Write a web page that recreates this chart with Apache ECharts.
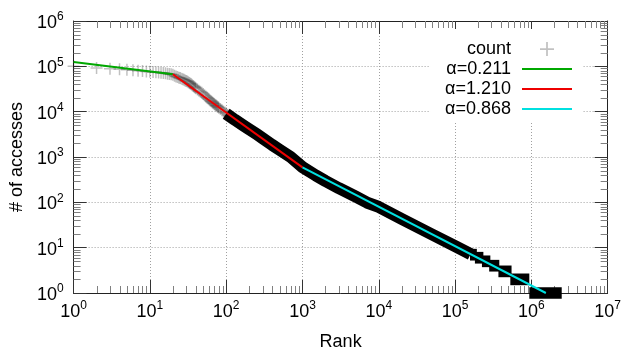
<!DOCTYPE html>
<html>
<head>
<meta charset="utf-8">
<script src="https://cdn.jsdelivr.net/npm/echarts@6/dist/echarts.min.js"></script>
<style>html,body{margin:0;padding:0;background:#fff}#c{width:624px;height:356px}</style>
</head>
<body>
<div id="c"></div>
<script>
// ---- data ----
const headRank = [1,2,3,4,5,6,7,8,9,10,11,12,13,14,15,16,17,18,19,20,
  21,22,23,24,25,26,27,28,29,30,31,32,33,34,35,36,37,38,39,40,
  42,44,46,48,50,52,54,56,58,60,62,64,66,68,70,72,74,76,78,80,
  84,88,92,96,100,105,110,115,120,125,130,135,140,145,150,160,170,180,190,200];
const headCount = [100000,92000,88000,86000,84000,82000,80000,78500,77000,76000,75000,74000,73000,72000,71000,70000,69000,68000,67000,65000,
  62000,60000,58000,56000,55000,53500,52000,50500,49000,47500,46000,44500,43000,41500,40000,38500,37000,35500,34000,33000,
  31000,29000,27500,26000,24500,23000,21500,20500,19500,18500,17500,16800,16000,15300,14700,14100,13600,13100,12600,12200,
  11400,10700,10100,9600,9200,8600,8100,7700,7300,6900,6600,6300,6000,5750,5500,5100,4800,4500,4250,4000];
const bandRank = [100,130,170,200,250,300,400,500,700,1000,1500,2000,3000,5000,7000,10000,20000,50000,100000,160000];
const bandCount = [9000,6600,4900,4100,3200,2600,1850,1450,1000,600,390,295,205,133,99,79,43,19.5,10.8,7.2];
const runCount = [1,2,3,4,5,6,7];
const runStart = [9.4e5,5.3e5,3.7e5,2.8e5,2.25e5,1.82e5,1.57e5];
const runEnd   = [2.5e6,9.4e5,5.5e5,3.8e5,2.9e5,2.35e5,1.93e5];
const fitNames = ['α=0.211','α=1.210','α=0.868'];
const fitColors = ['#00a800','#ee0000','#00e0e0'];
const fit1Rank = [1,20],     fit1Count = [1.25e5,6.7e4];
const fit2Rank = [20,1000],  fit2Count = [6.7e4,590];
const fit3Rank = [1000,1.55e6], fit3Count = [590,1.0];
const xTickLabels = ['0','1','2','3','4','5','6','7'];
const yTickLabels = ['0','1','2','3','4','5','6'];
const minorMult = [2,3,4,5,6,7,8,9];

// ---- build ----
const F = 'Liberation Sans, Arial, sans-serif';
const XMIN = 1, XMAX = 1e7, YMIN = 1, YMAX = 1e6;
const plusPath = 'path://M5.25,0h1.5v5.25h5.25v1.5h-5.25v5.25h-1.5v-5.25h-5.25v-1.5h5.25z';
const barPath = 'path://M0,0H50V2H0Z';
const zip = (a,b) => a.map((v,i) => [v,b[i]]);
const minorX = [], minorY = [];
for (let e = 0; e < 7; e++) minorMult.forEach(m => minorX.push([m*Math.pow(10,e), 1]));
for (let e = 0; e < 6; e++) minorMult.forEach(m => minorY.push([1, m*Math.pow(10,e)]));
const runs = runCount.map((c,i) => [runStart[i], runEnd[i], c]);

function expOf(v){ return Math.round(Math.log10(v)); }
const rich = {
  b: {fontSize:18, fontFamily:F, color:'#000', verticalAlign:'bottom', padding:[3,0,0,0]},
  s: {fontSize:12, fontFamily:F, color:'#000', verticalAlign:'top'}
};
const axisLineS = {show:true, lineStyle:{color:'#222', width:1}};
const tickS = {show:true, inside:true, length:13, lineStyle:{color:'#333', width:1}};
const splitS = {show:true, lineStyle:{color:'#a0a0a0', width:1, type:[1,2]}};

function fitSeries(i, r, c){
  return {name:fitNames[i], type:'line', symbol:'none', showSymbol:false,
    itemStyle:{color:fitColors[i]}, lineStyle:{color:fitColors[i], width:2}, data:zip(r, c)};
}

const chart = echarts.init(document.getElementById('c'), null, {renderer:'canvas'});
chart.setOption({
  animation:false,
  backgroundColor:'#fff',
  grid:{left:73, right:11, top:21, bottom:60, containLabel:false},
  xAxis:[
    {type:'log', logBase:10, min:XMIN, max:XMAX, interval:1, position:'bottom',
     axisLine:axisLineS, axisTick:tickS, splitLine:splitS, minorTick:{show:false},
     axisLabel:{margin:7, formatter:v => '{b|10}{s|' + xTickLabels[expOf(v)] + '}', rich:rich},
     name:'Rank', nameLocation:'middle', nameGap:40,
     nameTextStyle:{fontSize:18, fontFamily:F, color:'#000'}},
    {type:'log', logBase:10, min:XMIN, max:XMAX, interval:1, position:'top',
     axisLine:axisLineS, axisTick:tickS, splitLine:{show:false}, axisLabel:{show:false}}
  ],
  yAxis:[
    {type:'log', logBase:10, min:YMIN, max:YMAX, interval:1, position:'left',
     axisLine:axisLineS, axisTick:tickS, splitLine:splitS,
     axisLabel:{margin:10, padding:[1,0,0,0], formatter:v => '{b|10}{s|' + yTickLabels[expOf(v)] + '}', rich:rich},
     name:'# of accesses', nameLocation:'middle', nameGap:46,
     nameTextStyle:{fontSize:18, fontFamily:F, color:'#000'}},
    {type:'log', logBase:10, min:YMIN, max:YMAX, interval:1, position:'right',
     axisLine:axisLineS, axisTick:tickS, splitLine:{show:false}, axisLabel:{show:false}}
  ],
  legend:{
    orient:'vertical', align:'right', right:41, top:29,
    padding:[10,11,2,15], backgroundColor:'#fff', itemGap:0,
    itemWidth:50, itemHeight:14, selectedMode:false,
    textStyle:{fontSize:18, fontFamily:F, color:'#000', lineHeight:20, padding:[0,6,0,0]},
    data:[{name:'count', icon:plusPath},
          {name:fitNames[0], icon:barPath, itemStyle:{color:fitColors[0]}},
          {name:fitNames[1], icon:barPath, itemStyle:{color:fitColors[1]}},
          {name:fitNames[2], icon:barPath, itemStyle:{color:fitColors[2]}}]
  },
  series:[
    {type:'custom', silent:true, clip:false, data:minorX, encode:{x:0,y:1},
     renderItem:(p,api) => {
       const b = api.coord([api.value(0), YMIN]), t = api.coord([api.value(0), YMAX]);
       const x = Math.round(b[0]) + 0.5;
       return {type:'group', children:[
         {type:'line', shape:{x1:x,y1:b[1],x2:x,y2:b[1]-7}, style:{stroke:'#808080', lineWidth:1}},
         {type:'line', shape:{x1:x,y1:t[1],x2:x,y2:t[1]+7}, style:{stroke:'#808080', lineWidth:1}}]};
     }},
    {type:'custom', silent:true, clip:false, data:minorY, encode:{x:0,y:1},
     renderItem:(p,api) => {
       const l = api.coord([XMIN, api.value(1)]), r = api.coord([XMAX, api.value(1)]);
       const y = Math.round(l[1]) + 0.5;
       return {type:'group', children:[
         {type:'line', shape:{x1:l[0],y1:y,x2:l[0]+7,y2:y}, style:{stroke:'#808080', lineWidth:1}},
         {type:'line', shape:{x1:r[0],y1:y,x2:r[0]-7,y2:y}, style:{stroke:'#808080', lineWidth:1}}]};
     }},
    {name:'count', type:'scatter', clip:false, symbol:plusPath, symbolSize:12,
     itemStyle:{color:'rgba(0,0,0,0.3)'}, data:zip(headRank, headCount)},
    {name:'count', type:'line', symbol:'none', showSymbol:false,
     lineStyle:{color:'#000', width:12, cap:'butt', join:'round'}, data:zip(bandRank, bandCount)},
    {name:'count', type:'custom', clip:false, data:runs, encode:{x:[0,1], y:2},
     renderItem:(p,api) => {
       const a = api.coord([api.value(0), api.value(2)]), b = api.coord([api.value(1), api.value(2)]);
       return {type:'rect', shape:{x:a[0], y:a[1]-5.85, width:b[0]-a[0], height:11.7}, style:{fill:'#000'}};
     }},
    fitSeries(0, fit1Rank, fit1Count),
    fitSeries(1, fit2Rank, fit2Count),
    fitSeries(2, fit3Rank, fit3Count)
  ]
});
</script>
</body>
</html>
